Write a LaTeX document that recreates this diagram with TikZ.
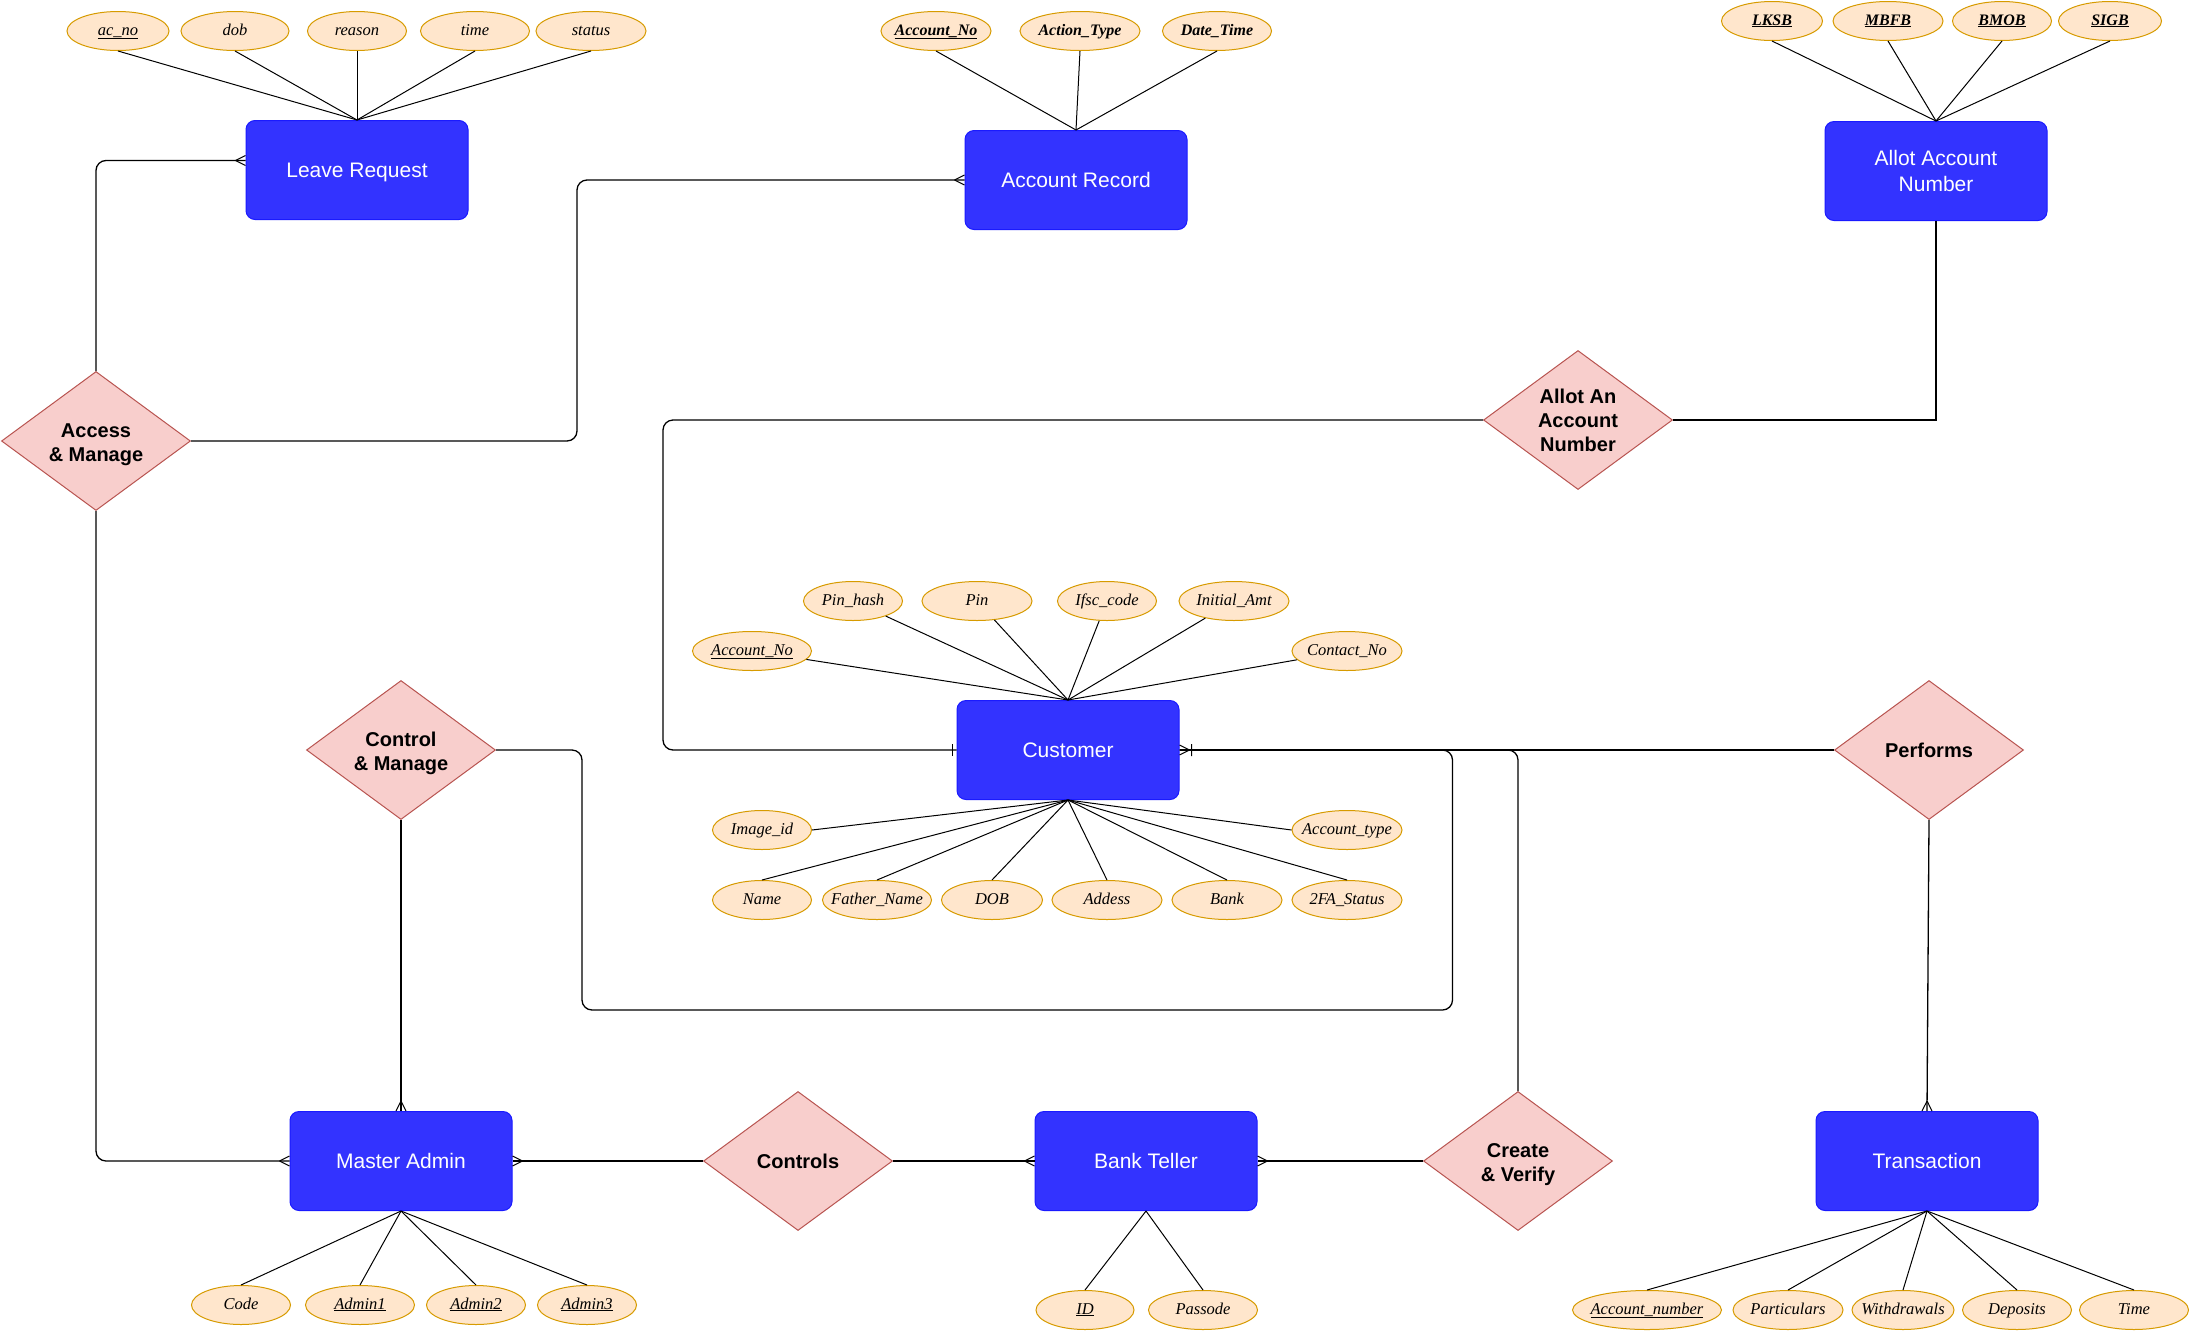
\documentclass[tikz,border=0pt]{standalone}
\usepackage{fontspec}
\setmainfont{Liberation Sans}
\newfontfamily\attrfont{Liberation Serif}
\usetikzlibrary{shapes.geometric,decorations.markings}
\definecolor{entfill}{HTML}{3333FF}
\definecolor{entdraw}{HTML}{1A1AFF}
\definecolor{attrfill}{HTML}{FFE6CC}
\definecolor{attrdraw}{HTML}{D79B00}
\definecolor{relfill}{HTML}{F8CECC}
\definecolor{reldraw}{HTML}{B85450}
\newcommand\attxt[1]{\makebox[0pt]{#1}}
\newcommand\lowstrut{\rule{0pt}{21pt}}
\begin{document}
\begin{tikzpicture}[x=1pt,y=-1pt,
 entity/.style={draw=entdraw, fill=entfill, rounded corners=9pt, minimum width=222pt, minimum height=99pt, inner sep=0pt, text=white, font=\fontsize{21}{26}\selectfont, align=center, line width=1pt},
 oneline/.style={text height=17pt, text depth=3pt},
 rel/.style={diamond, draw=reldraw, fill=relfill, minimum width=189pt, minimum height=139pt, inner sep=0pt, aspect=1.36, font=\fontsize{20}{24}\selectfont\bfseries, align=center, line width=1pt},
 attr/.style={ellipse, draw=attrdraw, fill=attrfill, minimum height=39pt, minimum width=#1, inner sep=0pt, line width=1pt, text height=11pt, text depth=3pt, font=\attrfont\itshape\fontsize{16.5}{19}\selectfont},
 attr/.default=110pt,
 battr/.style={attr=#1, font=\attrfont\itshape\bfseries\fontsize{16}{19}\selectfont},
 battr/.default=110pt,
 aline/.style={draw=black, line width=1pt},
 conn/.style={draw=black, line width=1.3pt, rounded corners=10pt},
 many end/.style={postaction={decorate,decoration={markings,mark=at position 1 with {\draw[line width=1pt,sharp corners] (-10pt,0pt) -- (0pt,5pt) (-10pt,0pt) -- (0pt,-5pt);}}}},
 one end/.style={postaction={decorate,decoration={markings,mark=at position 1 with {\draw[line width=1pt] (-4pt,-6pt) -- (-4pt,6pt);}}}},
 onemany end/.style={postaction={decorate,decoration={markings,mark=at position 1 with {\draw[line width=1pt,sharp corners] (-10pt,0pt) -- (0pt,5pt) (-10pt,0pt) -- (0pt,-5pt) (-12pt,-6pt) -- (-12pt,6pt);}}}}
]
\useasboundingbox[fill=white] (0,0) rectangle (2190,1331);

% ---------- entities ----------
\node[entity, oneline] (lr) at (357,170) {Leave Request};
\node[entity, oneline] (ar) at (1076,180) {Account Record};
\node[entity] (aa) at (1936,171) {Allot Account\\Number};
\node[entity, oneline] (cust) at (1068,750) {Customer};
\node[entity, oneline] (ma) at (401,1161) {Master Admin};
\node[entity, oneline] (bt) at (1146,1161) {Bank Teller};
\node[entity, oneline] (tr) at (1927,1161) {Transaction};

% ---------- relationships ----------
\node[rel] (am) at (96,441) {\lowstrut Access\\\& Manage};
\node[rel] (aan) at (1578,420) {Allot An\\Account\\Number};
\node[rel] (cm) at (401,750) {\lowstrut Control\\\& Manage};
\node[rel] (perf) at (1929,750) {Performs};
\node[rel] (ctrl) at (798,1161) {Controls};
\node[rel] (cv) at (1518,1161) {\lowstrut Create\\\& Verify};

% ---------- Leave Request attributes ----------
\node[attr=102pt] (lr1) at (118,31) {\attxt{\underline{ac\_no}}};
\node[attr=108pt] (lr2) at (235,31) {\attxt{dob}};
\node[attr=99pt] (lr3) at (357,31) {\attxt{reason}};
\node[attr=109pt] (lr4) at (475,31) {\attxt{time}};
\node[attr=110pt] (lr5) at (591,31) {\attxt{status}};
\foreach \a in {lr1,lr2,lr3,lr4,lr5} \draw[aline] (\a.south) -- (lr.north);

% ---------- Account Record attributes ----------
\node[battr=110pt] (ar1) at (936,31) {\attxt{\underline{Account\_No}}};
\node[battr=120pt] (ar2) at (1080,31) {\attxt{Action\_Type}};
\node[battr=109pt] (ar3) at (1217,31) {\attxt{Date\_Time}};
\foreach \a in {ar1,ar2,ar3} \draw[aline] (\a.south) -- (ar.north);

% ---------- Allot Account Number attributes ----------
\node[battr=101pt] (aa1) at (1772,21) {\attxt{\underline{LKSB}}};
\node[battr=110pt] (aa2) at (1888,21) {\attxt{\underline{MBFB}}};
\node[battr=99pt] (aa3) at (2002,21) {\attxt{\underline{BMOB}}};
\node[battr=103pt] (aa4) at (2110,21) {\attxt{\underline{SIGB}}};
\foreach \a in {aa1,aa2,aa3,aa4} \draw[aline] (\a.south) -- (aa.north);

% ---------- Customer attributes ----------
\node[attr=99pt] (c1) at (853,601) {\attxt{Pin\_hash}};
\node[attr=110pt] (c2) at (977,601) {\attxt{Pin}};
\node[attr=99pt] (c3) at (1107,601) {\attxt{Ifsc\_code}};
\node[attr=110pt] (c4) at (1234,601) {\attxt{Initial\_Amt}};
\node[attr=119pt] (c5) at (752,651) {\attxt{\underline{Account\_No}}};
\node[attr=110pt] (c6) at (1347,651) {\attxt{Contact\_No}};
\foreach \a in {c1,c2,c3,c4,c5,c6} \draw[aline] (\a) -- (cust.north);
\node[attr=99pt] (c7) at (762,830) {\attxt{Image\_id}};
\node[attr=110pt] (c8) at (1347,830) {\attxt{Account\_type}};
\node[attr=99pt] (c9) at (762,900) {\attxt{Name}};
\node[attr=109pt] (c10) at (877,900) {\attxt{Father\_Name}};
\node[attr=101pt] (c11) at (992,900) {\attxt{DOB}};
\node[attr=110pt] (c12) at (1107,900) {\attxt{Addess}};
\node[attr=110pt] (c13) at (1227,900) {\attxt{Bank}};
\node[attr=110pt] (c14) at (1347,900) {\attxt{2FA\_Status}};
\draw[aline] (c7.east) -- (cust.south);
\draw[aline] (c8.west) -- (cust.south);
\foreach \a in {c9,c10,c11,c12,c13,c14} \draw[aline] (\a.north) -- (cust.south);

% ---------- Master Admin attributes ----------
\node[attr=99pt] (m1) at (241,1305) {\attxt{Code}};
\node[attr=109pt] (m2) at (360,1305) {\attxt{\underline{Admin1}}};
\node[attr=99pt] (m3) at (476,1305) {\attxt{\underline{Admin2}}};
\node[attr=99pt] (m4) at (587,1305) {\attxt{\underline{Admin3}}};
\foreach \a in {m1,m2,m3,m4} \draw[aline] (\a.north) -- (ma.south);

% ---------- Bank Teller attributes ----------
\node[attr=98pt] (b1) at (1085,1310) {\attxt{\underline{ID}}};
\node[attr=109pt] (b2) at (1203,1310) {\attxt{Passode}};
\foreach \a in {b1,b2} \draw[aline] (\a.north) -- (bt.south);

% ---------- Transaction attributes ----------
\node[attr=149pt] (t1) at (1647,1310) {\attxt{\underline{Account\_number}}};
\node[attr=110pt] (t2) at (1788,1310) {\attxt{Particulars}};
\node[attr=102pt] (t3) at (1903,1310) {\attxt{Withdrawals}};
\node[attr=109pt] (t4) at (2017,1310) {\attxt{Deposits}};
\node[attr=109pt] (t5) at (2134,1310) {\attxt{Time}};
\foreach \a in {t1,t2,t3,t4,t5} \draw[aline] (\a.north) -- (tr.south);

% ---------- relationship connectors ----------
\draw[conn, many end] (am.north) |- ([yshift=9.5pt]lr.west);
\draw[conn, many end] (am.east) -| (577,180) -- (ar.west);
\draw[conn, many end] (am.south) |- (ma.west);

\draw[conn, one end] (aan.west) -| (663,750) -- (cust.west);
\draw[conn, sharp corners] (aan.east) -| (aa.south);

\draw[conn, many end] (cm.south) -- (ma.north);
\draw[conn, onemany end] (cm.east) -| (582,1010) -| (1452.5,750) -- (cust.east);

\draw[conn] (perf.west) -- (cust.east);
\draw[conn] (cv.north) |- (cust.east);
\draw[conn, many end] (perf.south) -- (tr.north);

\draw[conn, many end] (ctrl.west) -- (ma.east);
\draw[conn, many end] (ctrl.east) -- (bt.west);
\draw[conn, many end] (cv.west) -- (bt.east);
\end{tikzpicture}
\end{document}
